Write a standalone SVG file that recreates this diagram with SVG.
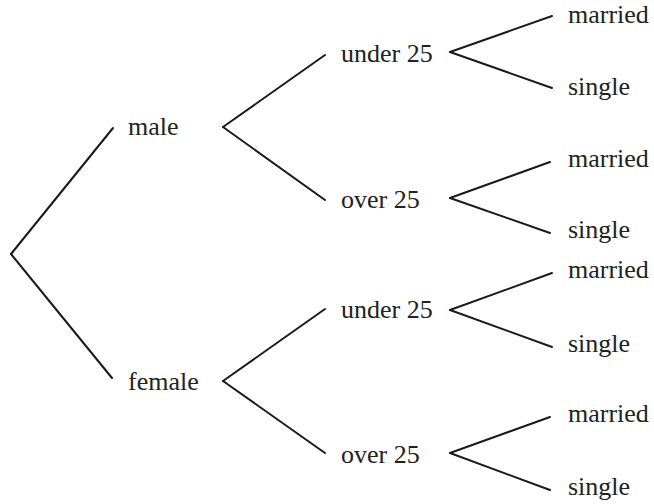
<svg xmlns="http://www.w3.org/2000/svg" width="654" height="504" viewBox="0 0 654 504">
<style>
.t{font-family:"Liberation Serif","Times New Roman",serif;font-size:26px;fill:#222}
.c line{stroke:#1a1a1a;stroke-width:2;stroke-linecap:round}
</style>
<rect width="654" height="504" fill="#fff"/>
<g class="c" id="connectors">
<line x1="11" y1="254" x2="113" y2="128"/>
<line x1="11" y1="254" x2="112" y2="378"/>
<line x1="223" y1="127" x2="325" y2="55"/>
<line x1="223" y1="127" x2="325" y2="200"/>
<line x1="223" y1="381" x2="325" y2="309"/>
<line x1="223" y1="381" x2="325" y2="453"/>
<line x1="450" y1="52" x2="552" y2="16"/>
<line x1="450" y1="52" x2="552" y2="88"/>
<line x1="450" y1="198" x2="550" y2="162"/>
<line x1="450" y1="198" x2="550" y2="233"/>
<line x1="450" y1="310" x2="552" y2="273"/>
<line x1="450" y1="310" x2="552" y2="347"/>
<line x1="450" y1="453" x2="550" y2="417"/>
<line x1="450" y1="453" x2="550" y2="490"/>
</g>
<g id="male"><text class="t" x="128" y="135">male</text></g>
<g id="female"><text class="t" x="128" y="390">female</text></g>
<g id="m-under25"><text class="t" x="341" y="62">under 25</text></g>
<g id="m-over25"><text class="t" x="341" y="208">over 25</text></g>
<g id="f-under25"><text class="t" x="341" y="318">under 25</text></g>
<g id="f-over25"><text class="t" x="341" y="463">over 25</text></g>
<g id="mu-married"><text class="t" x="568" y="23">married</text></g>
<g id="mu-single"><text class="t" x="568" y="95">single</text></g>
<g id="mo-married"><text class="t" x="568" y="167">married</text></g>
<g id="mo-single"><text class="t" x="568" y="238">single</text></g>
<g id="fu-married"><text class="t" x="568" y="278">married</text></g>
<g id="fu-single"><text class="t" x="568" y="352">single</text></g>
<g id="fo-married"><text class="t" x="568" y="422">married</text></g>
<g id="fo-single"><text class="t" x="568" y="495">single</text></g>
</svg>
